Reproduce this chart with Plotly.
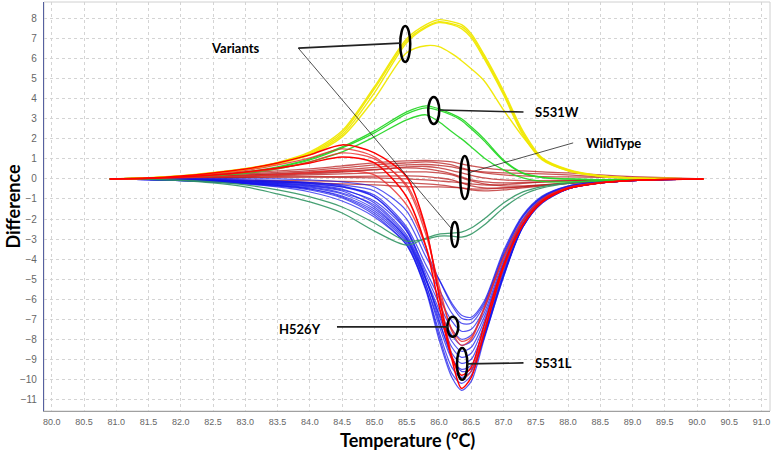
import plotly.graph_objects as go

# Shared temperature grid (°C)
temps = [80.9, 81.5, 82.0, 82.5, 83.0, 83.5, 84.0, 84.5, 85.0, 85.5, 85.8, 86.0,
         86.2, 86.35, 86.5, 86.7, 87.0, 87.3, 87.6, 88.0, 88.5, 89.0, 89.5, 90.1]

# Yellow variant curves
yellow_1 = [0, 0.05, 0.15, 0.3, 0.5, 0.8, 1.3, 2.3, 4.5, 6.9, 7.6, 7.85, 7.75, 7.6, 7.15, 6.1, 4.3, 2.3, 1.0, 0.45, 0.15, 0.05, 0.02, 0]
yellow_2 = [0, 0.05, 0.14, 0.28, 0.48, 0.78, 1.25, 2.2, 4.3, 6.8, 7.55, 7.8, 7.7, 7.5, 7.05, 6.0, 4.2, 2.2, 0.95, 0.42, 0.14, 0.05, 0.02, 0]
yellow_3 = [0, 0.06, 0.16, 0.32, 0.52, 0.83, 1.35, 2.4, 4.6, 7.0, 7.7, 7.95, 7.85, 7.7, 7.25, 6.2, 4.4, 2.4, 1.05, 0.47, 0.16, 0.05, 0.02, 0]
yellow_4 = [0, 0.05, 0.14, 0.28, 0.47, 0.75, 1.2, 2.1, 4.0, 6.3, 6.65, 6.6, 6.25, 5.9, 5.5, 4.9, 3.45, 2.1, 1.0, 0.4, 0.12, 0.04, 0.01, 0]

# Light green (S531W)
green_1 = [0, 0.04, 0.1, 0.2, 0.35, 0.6, 1.0, 1.6, 2.4, 3.35, 3.65, 3.5, 3.25, 3.0, 2.6, 2.0, 0.95, 0.3, 0.08, 0.0, -0.04, -0.02, -0.01, 0]
green_2 = [0, 0.04, 0.1, 0.19, 0.33, 0.57, 0.95, 1.55, 2.3, 3.25, 3.55, 3.42, 3.18, 2.92, 2.5, 1.9, 0.9, 0.28, 0.07, 0.0, -0.04, -0.02, -0.01, 0]
green_3 = [0, 0.03, 0.08, 0.16, 0.28, 0.5, 0.85, 1.35, 2.1, 2.95, 3.2, 2.85, 2.35, 2.0, 1.6, 1.05, 0.45, 0.05, -0.12, -0.15, -0.08, -0.03, -0.01, 0]

# Dark green curves
dkgreen_1 = [0, -0.02, -0.08, -0.2, -0.4, -0.75, -1.15, -1.7, -2.6, -3.3, -2.95, -2.75, -2.7, -2.65, -2.45, -2.0, -1.2, -0.65, -0.38, -0.2, -0.08, -0.03, -0.01, 0]
dkgreen_2 = [0, -0.02, -0.06, -0.15, -0.3, -0.55, -0.9, -1.4, -2.2, -3.1, -3.0, -2.85, -2.85, -2.9, -2.75, -2.3, -1.45, -0.8, -0.45, -0.22, -0.1, -0.04, -0.01, 0]

# Wild type (flat red)
wt_1 = [0, 0.05, 0.12, 0.2, 0.3, 0.4, 0.5, 0.65, 0.8, 0.9, 0.92, 0.9, 0.85, 0.75, 0.65, 0.55, 0.45, 0.4, 0.35, 0.3, 0.2, 0.12, 0.06, 0]
wt_2 = [0, 0.04, 0.1, 0.16, 0.25, 0.33, 0.42, 0.55, 0.7, 0.8, 0.85, 0.8, 0.7, 0.55, 0.42, 0.3, 0.2, 0.15, 0.12, 0.1, 0.08, 0.05, 0.02, 0]
wt_3 = [0, 0.03, 0.07, 0.12, 0.18, 0.24, 0.3, 0.38, 0.48, 0.55, 0.5, 0.4, 0.25, 0.1, -0.05, -0.15, -0.2, -0.18, -0.15, -0.1, -0.06, -0.03, -0.01, 0]
wt_4 = [0, 0.02, 0.05, 0.08, 0.12, 0.16, 0.2, 0.25, 0.3, 0.35, 0.35, 0.3, 0.2, 0.05, -0.1, -0.25, -0.35, -0.35, -0.3, -0.22, -0.12, -0.06, -0.02, 0]
wt_5 = [0, 0.01, 0.03, 0.05, 0.07, 0.09, 0.1, 0.12, 0.14, 0.15, 0.12, 0.05, -0.05, -0.2, -0.35, -0.45, -0.45, -0.4, -0.32, -0.22, -0.12, -0.05, -0.02, 0]
wt_6 = [0, -0.01, -0.02, -0.04, -0.06, -0.08, -0.1, -0.12, -0.15, -0.2, -0.25, -0.3, -0.38, -0.45, -0.55, -0.6, -0.55, -0.45, -0.35, -0.22, -0.12, -0.05, -0.02, 0]
wt_7 = [0, -0.02, -0.05, -0.08, -0.12, -0.16, -0.2, -0.25, -0.3, -0.38, -0.4, -0.4, -0.42, -0.45, -0.5, -0.5, -0.45, -0.38, -0.3, -0.2, -0.1, -0.05, -0.02, 0]
wt_8 = [0, 0.03, 0.08, 0.13, 0.2, 0.27, 0.35, 0.45, 0.58, 0.7, 0.72, 0.68, 0.6, 0.5, 0.42, 0.35, 0.3, 0.28, 0.25, 0.2, 0.12, 0.07, 0.03, 0]
wt_9 = [0, 0.02, 0.04, 0.06, 0.08, 0.1, 0.1, 0.08, 0.05, 0, -0.05, -0.1, -0.15, -0.2, -0.25, -0.3, -0.28, -0.22, -0.16, -0.1, -0.05, -0.02, 0, 0]
wt_10 = [0, 0.03, 0.06, 0.1, 0.15, 0.2, 0.26, 0.34, 0.45, 0.6, 0.62, 0.55, 0.42, 0.3, 0.18, 0.05, -0.05, -0.08, -0.08, -0.06, -0.04, -0.02, -0.01, 0]

# Blue curves (S531L group)
blue_1 = [0, -0.01, -0.03, -0.05, -0.08, -0.12, -0.18, -0.3, -0.6, -2.0, -3.9, -5.0, -6.2, -6.8, -6.9, -6.1, -3.6, -1.8, -0.85, -0.35, -0.15, -0.06, -0.02, 0]
blue_2 = [0, -0.02, -0.04, -0.07, -0.11, -0.17, -0.25, -0.4, -0.8, -2.4, -4.3, -5.5, -6.7, -7.2, -7.2, -6.3, -3.8, -1.9, -0.9, -0.38, -0.16, -0.06, -0.02, 0]
blue_3 = [0, -0.02, -0.05, -0.09, -0.15, -0.22, -0.32, -0.55, -1.1, -2.6, -4.6, -5.9, -7.1, -7.6, -7.5, -6.5, -3.9, -2.0, -0.95, -0.4, -0.17, -0.07, -0.02, 0]
blue_4 = [0, -0.01, -0.03, -0.06, -0.1, -0.15, -0.22, -0.4, -0.9, -2.5, -4.8, -6.2, -7.5, -8.0, -7.8, -6.7, -4.1, -2.1, -1.0, -0.42, -0.17, -0.07, -0.02, 0]
blue_5 = [0, -0.02, -0.06, -0.11, -0.18, -0.27, -0.4, -0.7, -1.3, -2.9, -5.0, -6.5, -7.8, -8.3, -8.1, -6.9, -4.2, -2.1, -1.0, -0.42, -0.18, -0.07, -0.02, 0]
blue_6 = [0, -0.03, -0.07, -0.13, -0.2, -0.3, -0.45, -0.75, -1.5, -3.0, -5.1, -6.7, -8.1, -8.6, -8.4, -7.1, -4.3, -2.2, -1.05, -0.45, -0.19, -0.08, -0.03, 0]
blue_7 = [0, -0.02, -0.05, -0.09, -0.14, -0.21, -0.3, -0.5, -1.2, -2.8, -5.0, -6.8, -8.4, -8.9, -8.7, -7.3, -4.5, -2.3, -1.1, -0.46, -0.19, -0.08, -0.03, 0]
blue_8 = [0, -0.03, -0.08, -0.14, -0.22, -0.33, -0.5, -0.85, -1.6, -3.1, -5.3, -7.1, -8.7, -9.2, -9.0, -7.5, -4.6, -2.3, -1.1, -0.48, -0.2, -0.08, -0.03, 0]
blue_9 = [0, -0.02, -0.06, -0.11, -0.17, -0.25, -0.36, -0.6, -1.4, -3.0, -5.3, -7.3, -9.0, -9.5, -9.3, -7.7, -4.7, -2.4, -1.15, -0.5, -0.2, -0.08, -0.03, 0]
blue_10 = [0, -0.03, -0.08, -0.15, -0.24, -0.36, -0.55, -0.95, -1.8, -3.3, -5.5, -7.6, -9.4, -9.9, -9.6, -7.8, -4.8, -2.4, -1.15, -0.5, -0.2, -0.08, -0.03, 0]
blue_11 = [0, -0.03, -0.07, -0.13, -0.21, -0.32, -0.5, -0.9, -1.7, -3.2, -5.5, -7.8, -9.7, -10.2, -9.8, -7.9, -4.8, -2.4, -1.2, -0.5, -0.2, -0.08, -0.03, 0]
blue_12 = [0, -0.03, -0.08, -0.15, -0.25, -0.4, -0.65, -1.1, -1.9, -3.3, -5.6, -8.0, -9.9, -10.55, -10.1, -8.0, -4.9, -2.3, -1.2, -0.5, -0.2, -0.08, -0.03, 0]
blue_13 = [0, 0.01, 0.02, 0.02, 0.01, 0.0, -0.05, -0.15, -0.4, -1.6, -3.6, -5.0, -6.3, -6.95, -7.0, -6.2, -3.7, -1.85, -0.9, -0.36, -0.15, -0.06, -0.02, 0]
blue_14 = [0, 0.0, 0.0, -0.02, -0.05, -0.1, -0.18, -0.35, -0.9, -2.6, -5.0, -7.0, -8.9, -9.6, -9.5, -7.9, -4.9, -2.4, -1.15, -0.5, -0.2, -0.08, -0.03, 0]

# Bright red curves (H526Y group)
red_1 = [0, 0.05, 0.15, 0.3, 0.5, 0.8, 1.2, 1.7, 1.3, 0.1, -2.5, -5.8, -9.0, -10.45, -9.9, -7.7, -4.4, -2.3, -1.15, -0.48, -0.2, -0.08, -0.03, 0]
red_2 = [0, 0.04, 0.12, 0.25, 0.42, 0.7, 1.05, 1.5, 1.1, -0.4, -2.8, -5.3, -7.6, -8.3, -8.0, -6.5, -4.0, -2.1, -1.05, -0.45, -0.18, -0.07, -0.02, 0]
red_3 = [0, 0.03, 0.1, 0.2, 0.35, 0.55, 0.8, 1.1, 0.8, -0.9, -3.4, -6.3, -8.9, -9.8, -9.4, -7.3, -4.3, -2.25, -1.1, -0.48, -0.2, -0.08, -0.03, 0]
red_4 = [0, 0.02, 0.06, 0.1, 0.15, 0.22, 0.32, 0.42, 0.2, -1.3, -3.4, -5.6, -7.5, -8.1, -7.9, -6.4, -3.9, -2.05, -1.0, -0.42, -0.17, -0.07, -0.02, 0]
red_5 = [0, 0.03, 0.09, 0.18, 0.32, 0.5, 0.85, 1.3, 1.0, -0.3, -2.6, -5.6, -8.8, -10.0, -9.6, -7.6, -4.5, -2.3, -1.15, -0.48, -0.2, -0.08, -0.03, 0]

x_ticks = [80.0, 80.5, 81.0, 81.5, 82.0, 82.5, 83.0, 83.5, 84.0, 84.5, 85.0, 85.5,
           86.0, 86.5, 87.0, 87.5, 88.0, 88.5, 89.0, 89.5, 90.0, 90.5, 91.0]
x_tick_labels = [f"{v:.1f}" for v in x_ticks]
y_ticks = list(range(-11, 9))

groups = [
    ([wt_1, wt_2, wt_3, wt_4, wt_5, wt_6, wt_7, wt_8, wt_9, wt_10], "rgba(185,30,30,0.75)", 1.3),
    ([blue_1, blue_2, blue_3, blue_4, blue_5, blue_6, blue_7, blue_8, blue_9, blue_10,
      blue_11, blue_12, blue_13, blue_14], "rgba(20,20,235,0.72)", 1.2),
    ([dkgreen_1, dkgreen_2], "rgba(50,150,100,0.9)", 1.3),
    ([green_1, green_2, green_3], "rgba(40,215,40,0.95)", 1.3),
    ([yellow_1, yellow_2, yellow_3, yellow_4], "rgba(240,232,0,0.95)", 1.4),
    ([red_2, red_4, red_5], "rgba(235,40,40,0.8)", 1.3),
    ([red_1, red_3], "rgba(255,0,0,1)", 1.5),
]

fig = go.Figure()
for curves, color, width in groups:
    for ys in curves:
        fig.add_trace(go.Scatter(x=temps, y=ys, mode="lines",
                                 line=dict(color=color, width=width, shape="spline", smoothing=0.8),
                                 hoverinfo="skip", showlegend=False))

# Ellipse call-outs (data coordinates)
ellipses = [
    (85.40, 5.84, 85.555, 7.63),
    (85.834, 2.74, 86.005, 4.09),
    (86.33, -1.00, 86.47, 1.15),
    (86.19, -3.39, 86.30, -2.15),
    (86.13, -7.88, 86.30, -6.88),
    (86.28, -10.02, 86.44, -8.43),
]
shapes = []
for x0, y0, x1, y1 in ellipses:
    shapes.append(dict(type="circle", xref="x", yref="y", x0=x0, y0=y0, x1=x1, y1=y1,
                       line=dict(color="black", width=2.5)))

leaders = [
    (83.82, 6.53, 85.40, 6.78, 1.6),
    (83.82, 6.53, 86.21, -2.54, 0.8),
    (86.005, 3.44, 87.31, 3.34, 1.6),
    (86.45, 0.30, 88.08, 1.80, 0.8),
    (84.42, -7.38, 86.146, -7.38, 1.6),
    (86.44, -9.23, 87.31, -9.18, 1.6),
]
for x0, y0, x1, y1, w in leaders:
    shapes.append(dict(type="line", xref="x", yref="y", x0=x0, y0=y0, x1=x1, y1=y1,
                       line=dict(color="#222", width=w)))

# frame
shapes.append(dict(type="rect", xref="paper", yref="paper", x0=0, y0=0, x1=1, y1=1,
                   line=dict(color="#d0d0d0", width=1), layer="below"))

labels = [
    ("Variants", 82.44, 6.53),
    ("S531W", 87.46, 3.34),
    ("WildType", 88.25, 1.80),
    ("H526Y", 83.49, -7.48),
    ("S531L", 87.46, -9.18),
]
annotations = []
for text, x, y in labels:
    annotations.append(dict(text=f"<b>{text}</b>", x=x, y=y, xref="x", yref="y",
                            xanchor="left", yanchor="middle", showarrow=False,
                            font=dict(family="Lato, Open Sans, sans-serif", size=13, color="black")))

# axis titles as paper annotations
annotations.append(dict(text="<b>Temperature (°C)</b>", x=0.5, y=-0.071, xref="paper", yref="paper",
                        xanchor="center", yanchor="middle", showarrow=False,
                        font=dict(family="Lato, Open Sans, sans-serif", size=18, color="black")))
annotations.append(dict(text="<b>Difference</b>", x=-0.044, y=0.5, xref="paper", yref="paper",
                        xanchor="center", yanchor="middle", showarrow=False, textangle=-90,
                        font=dict(family="Lato, Open Sans, sans-serif", size=18, color="black")))

fig.update_layout(
    width=778, height=454,
    margin=dict(l=44, r=8, t=2, b=43, autoexpand=False),
    paper_bgcolor="white", plot_bgcolor="white",
    shapes=shapes, annotations=annotations,
    showlegend=False,
    xaxis=dict(range=[79.88, 91.13], tickmode="array", tickvals=x_ticks, ticktext=x_tick_labels,
               showgrid=True, gridcolor="#d4d4d4", griddash="dot", gridwidth=1,
               showline=True, linecolor="#a0a0a0", linewidth=1, zeroline=False,
               tickfont=dict(family="Liberation Sans, Arial, sans-serif", size=9, color="#666"),
               ticks="", ticklabelstandoff=2, automargin=False),
    yaxis=dict(range=[-11.58, 8.83], tickmode="array", tickvals=y_ticks,
               showgrid=True, gridcolor="#d4d4d4", griddash="dot", gridwidth=1,
               showline=True, linecolor="#5560a0", linewidth=1.2, zeroline=False,
               tickfont=dict(family="Liberation Sans, Arial, sans-serif", size=10, color="#666"),
               ticks="", ticklabelstandoff=4, automargin=False),
)

fig.write_html("out.html", config={"displayModeBar": False},
               post_script="document.body.style.margin='0px';")
